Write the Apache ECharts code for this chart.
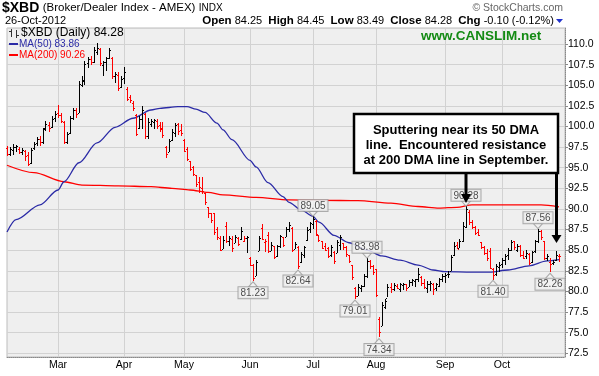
<!DOCTYPE html>
<html lang="en">
<head>
<meta charset="UTF-8">
<title>$XBD daily</title>
<script src="https://cdn.jsdelivr.net/npm/echarts@6/dist/echarts.min.js"></script>
<style>
  html, body { margin: 0; padding: 0; background: #fff; }
  #main { width: 599px; height: 376px; }
</style>
</head>
<body>
<div id="main"></div>
<script>
// trading days 6-Feb-2012 .. 26-Oct-2012 (exchange holidays skipped)
var holidays = ['2012-02-20', '2012-04-06', '2012-05-28', '2012-07-04', '2012-09-03'];
var monthNames = ['Jan', 'Feb', 'Mar', 'Apr', 'May', 'Jun', 'Jul', 'Aug', 'Sep', 'Oct', 'Nov', 'Dec'];

// daily bars (Feb | Mar | Apr | May | Jun | Jul | Aug | Sep | Oct)
var opens = [
  97.3, 96.6, 97.1, 97.5, 97.2, 96.9, 97.0, 96.5, 95.5, 97.3, 97.9, 98.4, 98.0, 99.7, 100.1, 99.9, 101.0,
  101.6, 101.3, 100.5, 98.1, 99.1, 101.0, 101.9, 101.6, 105.0, 105.5, 107.6, 108.1, 107.8, 109.0, 109.3, 107.4, 107.8, 108.3, 108.2, 106.0, 106.2, 104.7,
  105.8, 104.5, 103.5, 102.8, 101.3, 99.7, 100.9, 101.5, 98.8, 100.2, 100.5, 100.6, 100.1, 99.8, 97.5, 96.8, 98.3, 99.2, 100.2, 99.5,
  98.3, 97.2, 95.7, 95.0, 94.1, 93.2, 92.5, 91.9, 90.2, 89.5, 89.5, 87.5, 86.4, 85.1, 87.9, 86.1, 86.3, 85.8, 86.4, 86.3, 86.0, 86.4,
  84.0, 83.2, 81.8, 84.9, 87.6, 85.9, 86.8, 84.9, 85.4, 84.2, 85.5, 86.5, 86.5, 87.5, 87.6, 85.1, 85.3, 83.5, 84.4, 86.2, 87.5,
  88.1, 88.5, 86.8, 86.0, 85.4, 85.2, 84.3, 84.7, 84.6, 85.6, 85.8, 85.3, 84.4, 83.2, 80.3, 79.4, 80.3, 80.6, 81.8, 83.6, 83.0,
  82.6, 76.6, 75.8, 78.0, 79.2, 80.5, 80.2, 80.6, 80.2, 80.7, 80.8, 80.5, 81.1, 81.2, 81.4, 81.7, 81.0, 80.3, 80.9, 80.8, 80.3, 80.6, 81.4,
  81.8, 82.0, 82.4, 84.3, 85.6, 85.2, 86.0, 87.8, 89.6, 88.3, 87.7, 87.2, 85.9, 85.3, 84.6, 84.9, 82.7, 82.0, 82.9,
  83.3, 83.7, 84.3, 85.0, 86.0, 85.0, 85.5, 84.3, 84.2, 84.5, 83.5, 84.8, 86.0, 87.3, 86.0, 84.0, 83.5, 83.4, 83.7, 84.25
];
var highs = [
  97.55, 97.5, 97.8, 97.7, 97.4, 97.3, 97.1, 96.8, 97.3, 98.0, 98.7, 98.8, 99.8, 100.6, 100.5, 101.2, 101.8,
  102.6, 101.6, 100.6, 99.3, 101.2, 102.2, 102.2, 105.4, 106.0, 107.9, 108.4, 108.5, 109.6, 110.05, 109.5, 107.9, 108.4, 109.5, 108.4, 106.6, 106.5, 106.0,
  107.1, 104.7, 103.8, 103.0, 101.4, 101.2, 102.4, 101.6, 101.0, 100.8, 100.9, 100.8, 100.5, 100.5, 97.6, 98.4, 99.6, 100.4, 100.4, 100.2,
  98.4, 97.4, 95.7, 95.1, 94.1, 93.8, 93.8, 91.9, 90.2, 89.5, 89.5, 87.8, 86.6, 86.6, 88.4, 86.6, 86.6, 86.8, 86.5, 87.8, 86.6, 86.6,
  84.1, 83.3, 83.8, 86.6, 88.1, 86.3, 87.2, 85.9, 85.4, 85.6, 86.8, 86.5, 87.7, 88.3, 87.7, 85.9, 85.4, 84.7, 85.5, 87.7, 88.4,
  89.05, 88.6, 86.8, 86.0, 85.8, 85.3, 85.6, 84.8, 86.2, 86.8, 85.8, 85.5, 84.4, 83.2, 80.5, 80.8, 80.7, 82.0, 83.98, 83.8, 83.2,
  82.6, 76.8, 78.6, 79.0, 80.8, 81.0, 81.0, 80.8, 81.0, 81.0, 80.9, 81.3, 81.4, 81.5, 82.8, 81.8, 81.4, 81.2, 81.2, 81.0, 81.0, 81.6, 82.0,
  82.2, 82.4, 84.3, 85.9, 85.9, 86.3, 88.4, 90.28, 89.8, 88.6, 87.9, 87.5, 85.9, 85.4, 85.1, 85.2, 82.8, 83.3, 83.5,
  84.0, 84.5, 85.2, 86.2, 86.1, 85.7, 85.6, 84.8, 85.0, 84.6, 84.9, 86.2, 87.56, 87.4, 86.1, 84.5, 84.0, 83.7, 84.8, 84.45
];
var lows = [
  96.3, 96.4, 96.5, 96.8, 96.5, 96.4, 95.8, 95.1, 95.3, 97.0, 97.6, 97.6, 97.8, 99.4, 99.3, 99.7, 100.5,
  101.0, 100.4, 97.8, 97.9, 99.0, 100.8, 101.0, 101.5, 104.7, 105.0, 107.1, 107.4, 107.6, 108.6, 107.3, 106.1, 106.7, 108.2, 105.7, 105.3, 104.2, 104.6,
  105.0, 103.0, 102.8, 101.8, 98.7, 99.6, 99.6, 98.4, 98.4, 99.8, 99.7, 99.6, 99.3, 98.6, 96.2, 96.8, 98.1, 98.7, 99.0, 98.7,
  96.8, 95.7, 94.5, 93.9, 92.7, 91.9, 91.7, 90.5, 88.9, 88.3, 86.8, 86.2, 84.8, 85.0, 85.9, 85.4, 84.7, 85.8, 85.4, 86.2, 85.9, 84.5,
  83.0, 81.23, 81.8, 84.8, 86.2, 84.7, 84.6, 84.8, 83.8, 84.1, 85.2, 85.3, 86.5, 87.1, 84.7, 85.0, 82.64, 83.4, 84.0, 86.0, 87.1,
  87.5, 86.7, 86.0, 85.0, 84.8, 84.0, 84.2, 83.2, 84.6, 85.0, 85.0, 84.2, 83.4, 81.4, 79.01, 79.3, 79.9, 80.4, 81.6, 82.7, 82.0,
  79.2, 74.34, 75.7, 77.8, 79.2, 79.8, 80.0, 80.2, 79.9, 80.2, 80.1, 80.4, 80.6, 80.5, 81.1, 80.6, 80.2, 79.8, 80.0, 79.6, 80.0, 80.5, 81.0,
  81.0, 81.6, 82.3, 84.2, 85.0, 85.2, 86.0, 87.6, 88.0, 87.5, 86.8, 86.6, 85.0, 84.3, 83.6, 82.6, 81.40, 81.8, 82.3,
  82.8, 83.2, 83.8, 84.9, 85.0, 84.7, 84.2, 83.8, 83.9, 83.1, 83.4, 84.6, 85.9, 86.2, 83.8, 83.6, 82.26, 83.1, 83.6, 83.49
];
var closes = [
  96.6, 97.2, 97.5, 97.6, 96.9, 97.1, 96.3, 95.4, 97.1, 97.8, 98.4, 98.0, 99.6, 100.3, 99.8, 100.9, 101.5,
  101.3, 100.6, 98.0, 99.0, 101.0, 101.9, 101.4, 105.1, 105.6, 107.5, 108.1, 107.7, 109.2, 109.4, 107.6, 107.7, 108.2, 109.2, 106.0, 106.3, 104.6, 105.7,
  106.6, 103.3, 103.1, 102.2, 99.0, 100.9, 101.9, 98.8, 100.5, 100.6, 100.7, 100.0, 99.6, 98.9, 96.6, 98.2, 99.3, 100.1, 99.4, 99.1,
  97.0, 96.0, 94.8, 94.2, 93.0, 92.6, 92.1, 90.8, 89.4, 88.6, 87.2, 86.5, 85.0, 86.2, 86.1, 86.4, 85.2, 86.5, 85.7, 87.3, 86.4, 86.5,
  83.2, 81.6, 83.5, 86.4, 86.3, 86.0, 84.9, 85.6, 84.1, 85.4, 86.6, 85.6, 87.5, 88.0, 85.0, 85.7, 83.0, 84.5, 85.3, 87.4, 88.2,
  88.7, 86.9, 86.2, 85.2, 85.0, 84.2, 85.3, 83.6, 85.9, 86.5, 85.3, 84.5, 83.6, 81.7, 79.4, 80.5, 80.6, 81.8, 83.6, 83.0, 82.3,
  79.5, 75.0, 78.3, 78.8, 80.5, 80.2, 80.7, 80.4, 80.8, 80.9, 80.4, 81.1, 81.3, 81.4, 82.0, 81.0, 80.5, 80.9, 81.0, 80.2, 80.8, 81.4, 81.8,
  81.9, 82.1, 84.1, 85.5, 85.1, 86.0, 87.9, 89.9, 88.4, 87.8, 87.0, 86.8, 85.3, 84.6, 84.0, 82.8, 81.9, 83.0, 83.2,
  83.7, 84.2, 85.0, 85.9, 85.3, 85.5, 84.4, 84.0, 84.6, 83.4, 84.7, 86.0, 87.3, 86.5, 84.0, 84.2, 83.3, 83.5, 84.38, 84.28
];

// moving averages at these bar positions
var ma50Idx = [0, 3, 11, 17, 19, 24, 30, 36, 42, 48, 51, 57, 60, 63, 66, 70, 72, 75, 81, 83, 87, 92, 94, 98, 102, 104, 109, 114, 120, 125, 131, 137, 142, 146, 155, 161, 167, 174, 180, 184];
var ma50Val = [87.2, 88.7, 90.5, 92.3, 93.3, 95.6, 98.0, 99.9, 101.0, 102.0, 102.2, 102.4, 102.4, 102.1, 101.7, 100.4, 99.6, 98.4, 95.9, 95.1, 93.2, 91.5, 90.8, 89.9, 89.1, 88.4, 86.8, 85.9, 85.0, 84.3, 83.8, 83.2, 82.6, 82.4, 82.35, 82.35, 82.6, 83.1, 83.7, 83.86];
var ma200Idx = [0, 9, 19, 25, 37, 48, 55, 61, 67, 72, 83, 94, 105, 117, 128, 137, 144, 150, 155, 167, 178, 184];
var ma200Val = [95.3, 94.4, 93.3, 92.9, 92.8, 92.7, 92.5, 92.3, 92.0, 91.7, 91.4, 91.1, 91.05, 91.0, 90.7, 90.3, 90.1, 90.2, 90.5, 90.5, 90.5, 90.26];

// price call-outs
var noteIdx = [82, 97, 102, 116, 120, 124, 153, 162, 177, 181];
var noteVal = [81.23, 82.64, 89.05, 79.01, 83.98, 74.34, 90.28, 81.40, 87.56, 82.26];
var noteAbove = [false, false, true, false, true, false, true, false, true, false];

var FONT = '"Liberation Sans", Arial, sans-serif';

function buildTradingDays(first, last, closed) {
  var out = [];
  var d = new Date(first + 'T00:00:00Z');
  var end = new Date(last + 'T00:00:00Z');
  while (d <= end) {
    var s = d.toISOString().slice(0, 10);
    var wd = d.getUTCDay();
    if (wd !== 0 && wd !== 6 && closed.indexOf(s) < 0) out.push(s);
    d.setUTCDate(d.getUTCDate() + 1);
  }
  return out;
}

var dates = buildTradingDays('2012-02-06', '2012-10-26', holidays);
var categories = dates.concat(['pad1', 'pad2']);

function isMonthStart(index) {
  if (index <= 0 || index >= dates.length) return false;
  return dates[index].slice(5, 7) !== dates[index - 1].slice(5, 7);
}

var ohlcData = dates.map(function (d, i) {
  return [i, opens[i], highs[i], lows[i], closes[i]];
});

function renderBar(params, api) {
  var i = api.value(0);
  var pO = api.coord([i, api.value(1)]);
  var pH = api.coord([i, api.value(2)]);
  var pL = api.coord([i, api.value(3)]);
  var pC = api.coord([i, api.value(4)]);
  var prev = i > 0 ? closes[i - 1] : opens[i];
  var color = closes[i] < prev ? '#ff0000' : '#000000';
  var x = Math.floor(pH[0]);
  return {
    type: 'group',
    children: [
      { type: 'rect', shape: { x: x, y: Math.floor(pH[1]), width: 1, height: Math.max(1, Math.round(pL[1] - pH[1])) }, style: { fill: color } },
      { type: 'rect', shape: { x: x - 1, y: Math.floor(pO[1]), width: 1, height: 1 }, style: { fill: color } },
      { type: 'rect', shape: { x: x + 1, y: Math.floor(pC[1]), width: 1, height: 1 }, style: { fill: color } }
    ]
  };
}

var ma50Data = ma50Idx.map(function (i, k) { return [i, ma50Val[k]]; });
var ma200Data = ma200Idx.map(function (i, k) { return [i, ma200Val[k]]; });

var noteData = noteIdx.map(function (i, k) {
  var up = noteAbove[k];
  return {
    value: [i, noteVal[k]],
    symbol: 'triangle',
    symbolRotate: up ? 180 : 0,
    symbolSize: [9, 5],
    symbolOffset: [0, up ? -3 : 3],
    label: { position: up ? 'top' : 'bottom' }
  };
});

var chart = echarts.init(document.getElementById('main'));

chart.setOption({
  animation: false,
  backgroundColor: '#ffffff',
  grid: {
    left: 7, right: 34, top: 28, bottom: 19,
    show: true, backgroundColor: '#efefef', borderColor: '#bdbdbd', borderWidth: 1
  },
  xAxis: {
    type: 'category',
    data: categories,
    boundaryGap: false,
    axisLine: { show: true, lineStyle: { color: '#8a8a8a', type: 'dotted' } },
    axisTick: { show: false },
    axisLabel: {
      interval: function (index) { return isMonthStart(index); },
      formatter: function (v) { return monthNames[parseInt(v.slice(5, 7), 10) - 1]; },
      color: '#000', fontSize: 10.5, fontFamily: FONT, margin: 3
    },
    splitLine: {
      show: true,
      interval: function (index) { return isMonthStart(index); },
      lineStyle: { color: '#d2d2d2', width: 1 }
    }
  },
  yAxis: {
    type: 'value',
    position: 'right',
    min: 72.05,
    max: 111.94,
    minInterval: 2.5,
    maxInterval: 2.5,
    splitNumber: 16,
    axisLine: { show: true, lineStyle: { color: '#8a8a8a', type: 'dotted' } },
    axisTick: { show: true, length: 3, lineStyle: { color: '#8a8a8a' } },
    axisLabel: {
      showMinLabel: false, showMaxLabel: false,
      formatter: function (v) { return v.toFixed(1); },
      color: '#000', fontSize: 10.5, fontFamily: FONT, margin: 3
    },
    splitLine: { show: true, lineStyle: { color: '#d2d2d2', width: 1 } }
  },
  series: [
    {
      name: 'MA(200)', type: 'line', data: ma200Data, smooth: 0.3, smoothMonotone: 'x',
      showSymbol: false, lineStyle: { color: '#ff0000', width: 1.3 }, z: 2
    },
    {
      name: 'MA(50)', type: 'line', data: ma50Data, smooth: 0.3, smoothMonotone: 'x',
      showSymbol: false, lineStyle: { color: '#2b2ba6', width: 1.3 }, z: 2
    },
    {
      name: '$XBD', type: 'custom', data: ohlcData, renderItem: renderBar,
      encode: { x: 0, y: [1, 2, 3, 4] }, z: 3
    },
    {
      name: 'notes', type: 'scatter', data: noteData, z: 4,
      itemStyle: { color: '#f3f3f3', borderColor: '#9a9a9a', borderWidth: 1 },
      label: {
        show: true, distance: 0,
        formatter: function (p) { return p.value[1].toFixed(2); },
        fontSize: 10, fontFamily: FONT, color: '#222',
        backgroundColor: '#f3f3f3', borderColor: '#9a9a9a', borderWidth: 1,
        padding: [1, 2, 0, 2], lineHeight: 10
      }
    }
  ],
  graphic: [
    // header
    {
      type: 'text', x: 2, y: 8,
      style: {
        text: '{a|$XBD} {b|(Broker/Dealer Index - AMEX)} {c|INDX}',
        rich: {
          a: { fontSize: 14, fontWeight: 'bold', fontFamily: FONT, fill: '#000' },
          b: { fontSize: 11.5, fontFamily: FONT, fill: '#000' },
          c: { fontSize: 10, fontFamily: FONT, fill: '#000' }
        },
        verticalAlign: 'middle', textVerticalAlign: 'middle'
      }
    },
    {
      type: 'text', x: 5, y: 21,
      style: { text: '26-Oct-2012', font: '11px ' + FONT, fill: '#000', verticalAlign: 'middle', textVerticalAlign: 'middle' }
    },
    {
      type: 'text', x: 554, y: 21,
      style: {
        text: '{b|Open} 84.25  {b|High} 84.45  {b|Low} 83.49  {b|Close} 84.28  {b|Chg} -0.10 (-0.12%)',
        rich: {
          b: { fontSize: 11.5, fontWeight: 'bold', fontFamily: FONT, fill: '#000' }
        },
        font: '11px ' + FONT, fill: '#000',
        align: 'right', textAlign: 'right', verticalAlign: 'middle', textVerticalAlign: 'middle'
      }
    },
    { type: 'polygon', shape: { points: [[556, 19], [563, 19], [559.5, 23]] }, style: { fill: '#2233cc' } },
    {
      type: 'text', x: 563, y: 8,
      style: { text: '\u00a9 StockCharts.com', font: '10.5px ' + FONT, fill: '#666', align: 'right', textAlign: 'right', verticalAlign: 'middle', textVerticalAlign: 'middle' }
    },
    {
      type: 'text', x: 421, y: 36, z: 10,
      style: { text: 'www.CANSLIM.net', font: 'bold 13.5px ' + FONT, fill: '#138a13', verticalAlign: 'middle', textVerticalAlign: 'middle' }
    },
    // legend inside plot
    { type: 'line', z: 10, shape: { x1: 11.5, y1: 29, x2: 11.5, y2: 37 }, style: { stroke: '#333', lineWidth: 1 } },
    { type: 'line', z: 10, shape: { x1: 9, y1: 31.5, x2: 11.5, y2: 31.5 }, style: { stroke: '#333', lineWidth: 1 } },
    { type: 'line', z: 10, shape: { x1: 16.5, y1: 30, x2: 16.5, y2: 38 }, style: { stroke: '#333', lineWidth: 1 } },
    { type: 'line', z: 10, shape: { x1: 16.5, y1: 35.5, x2: 19, y2: 35.5 }, style: { stroke: '#333', lineWidth: 1 } },
    {
      type: 'text', x: 21, y: 33, z: 10,
      style: { text: '$XBD (Daily) 84.28', font: '12px ' + FONT, fill: '#000', verticalAlign: 'middle', textVerticalAlign: 'middle' }
    },
    { type: 'line', z: 10, shape: { x1: 9, y1: 44, x2: 18, y2: 44 }, style: { stroke: '#2b2ba6', lineWidth: 2 } },
    {
      type: 'text', x: 19, y: 44, z: 10,
      style: { text: 'MA(50) 83.86', font: '10px ' + FONT, fill: '#2b2ba6', verticalAlign: 'middle', textVerticalAlign: 'middle' }
    },
    { type: 'line', z: 10, shape: { x1: 9, y1: 55, x2: 18, y2: 55 }, style: { stroke: '#ff0000', lineWidth: 2 } },
    {
      type: 'text', x: 19, y: 55, z: 10,
      style: { text: 'MA(200) 90.26', font: '10px ' + FONT, fill: '#ff0000', verticalAlign: 'middle', textVerticalAlign: 'middle' }
    },
    // comment box and arrows
    {
      type: 'rect', z: 20, shape: { x: 354, y: 114, width: 204, height: 59 },
      style: { fill: '#ffffff', stroke: '#000', lineWidth: 2.5 }
    },
    {
      type: 'text', x: 456, y: 130, z: 21,
      style: { text: 'Sputtering near its 50 DMA', font: 'bold 13px ' + FONT, fill: '#000', align: 'center', textAlign: 'center', verticalAlign: 'middle', textVerticalAlign: 'middle' }
    },
    {
      type: 'text', x: 456, y: 145, z: 21,
      style: { text: 'line.  Encountered resistance', font: 'bold 13px ' + FONT, fill: '#000', align: 'center', textAlign: 'center', verticalAlign: 'middle', textVerticalAlign: 'middle' }
    },
    {
      type: 'text', x: 456, y: 160, z: 21,
      style: { text: 'at 200 DMA line in September.', font: 'bold 13px ' + FONT, fill: '#000', align: 'center', textAlign: 'center', verticalAlign: 'middle', textVerticalAlign: 'middle' }
    },
    { type: 'line', z: 20, shape: { x1: 466, y1: 174, x2: 466, y2: 196 }, style: { stroke: '#000', lineWidth: 3 } },
    { type: 'polygon', z: 20, shape: { points: [[461, 194], [471, 194], [466, 203]] }, style: { fill: '#000' } },
    { type: 'line', z: 20, shape: { x1: 556.5, y1: 172, x2: 556.5, y2: 237 }, style: { stroke: '#000', lineWidth: 3 } },
    { type: 'polygon', z: 20, shape: { points: [[551.5, 235], [561.5, 235], [556.5, 243]] }, style: { fill: '#000' } }
  ]
});
</script>
</body>
</html>
